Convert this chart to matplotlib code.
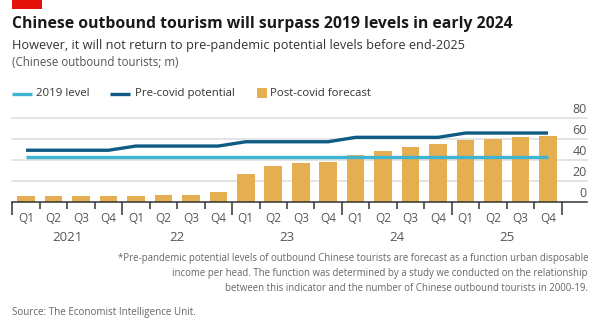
import matplotlib
matplotlib.use("Agg")
import matplotlib.pyplot as plt
from matplotlib.lines import Line2D
from matplotlib.patches import Rectangle
import matplotlib.transforms as mtransforms

# ---- data -------------------------------------------------------------
quarters = ["Q1", "Q2", "Q3", "Q4"] * 5
years = ["2021", "22", "23", "24", "25"]
post_covid_forecast = [5.0, 5.0, 5.0, 5.0,
                       5.0, 6.3, 6.3, 8.9,
                       26.3, 34.3, 36.5, 38.1,
                       44.4, 48.6, 52.4, 54.6,
                       58.4, 60.0, 61.3, 62.5]
pre_covid_potential = [49.0] * 4 + [53.0] * 4 + [57.1] * 4 + [61.3] * 4 + [65.4] * 4
level_2019 = [42.2] * 20
y_ticks = [0, 20, 40, 60, 80]

# ---- style --------------------------------------------------------------
BAR = "#E5AE50"
DARK = "#0F5B84"
LIGHT = "#40B3D0"
GRID = "#DCDCDC"
AXIS = "#333333"
TXT = "#1a1a1a"
GREY = "#555555"
FONT = "Open Sans"

W, H = 600, 330
fig = plt.figure(figsize=(W / 100, H / 100), dpi=100)
fig.patch.set_facecolor("white")


def fx(px):
    return px / W


def fy(py):
    return 1 - py / H


# plot area: bars span x 12..562 px, axis runs to 587 px; 0 at y=202, 80 at y=118
x_left, x_right = 12.3, 587.0
y0_px, y80_px = 201.7, 117.7
n = len(post_covid_forecast)
unit = (561.7 - x_left) / n
xmax = -0.5 + (x_right - x_left) / unit
ax = fig.add_axes([fx(x_left), fy(y0_px), (x_right - x_left) / W, (y0_px - y80_px) / H])
ax.set_xlim(-0.5, xmax)
ax.set_ylim(0, 80)
for s in ax.spines.values():
    s.set_visible(False)
ax.set_yticks([])

# gridlines and baseline
for v in y_ticks[1:]:
    ax.axhline(v, color=GRID, lw=1.1, zorder=0, clip_on=False)
ax.axhline(0, color=AXIS, lw=1.1, zorder=4, clip_on=False)

xs = list(range(n))
ax.bar(xs, post_covid_forecast, width=0.64, color=BAR, zorder=2)
ax.plot(xs, level_2019, color=LIGHT, lw=2.4, zorder=3, solid_capstyle="butt")
ax.plot(xs, pre_covid_potential, color=DARK, lw=2.4, zorder=3, solid_capstyle="butt",
        solid_joinstyle="round")

# y labels sit above gridlines at the right edge
lab_tr = mtransforms.offset_copy(ax.transData, fig=fig, x=0, y=1.2, units="points")
for v in y_ticks:
    ax.text(xmax, v, str(v), transform=lab_tr, ha="right", va="bottom",
            fontsize=9, color=GREY, family=FONT)

# tick marks between quarters; longer ones between years
ax.set_xticks([i - 0.5 for i in range(0, n + 1, 4)])
ax.set_xticks([i - 0.5 for i in range(n + 1) if i % 4], minor=True)
ax.tick_params(axis="x", which="major", length=9, width=1.1, color=AXIS, labelbottom=False)
ax.tick_params(axis="x", which="minor", length=5, width=1.1, color=AXIS, labelbottom=False)

q_tr = mtransforms.blended_transform_factory(ax.transData, fig.transFigure)
for i, q in enumerate(quarters):
    ax.text(i, fy(218), q, transform=q_tr, ha="center", va="center",
            fontsize=8.5, color=GREY, family=FONT)
for k, yr in enumerate(years):
    ax.text(4 * k + 1.5, fy(237.5), yr, transform=q_tr, ha="center", va="center",
            fontsize=9.5, color=GREY, family=FONT)

# ---- header -------------------------------------------------------------
fig.add_artist(Rectangle((fx(12), fy(9)), fx(42) - fx(12), 9 / H, transform=fig.transFigure,
                         color="#E3120B", lw=0))
fig.text(fx(12), fy(24), "Chinese outbound tourism will surpass 2019 levels in early 2024",
         ha="left", va="center", fontsize=11.3, fontweight="bold", color=TXT, family=FONT)
fig.text(fx(12), fy(45), "However, it will not return to pre-pandemic potential levels before end-2025",
         ha="left", va="center", fontsize=9.2, color="#333333", family=FONT)
fig.text(fx(12), fy(63), "(Chinese outbound tourists; m)",
         ha="left", va="center", fontsize=8.3, color=GREY, family=FONT)

# legend
ly = fy(93.5)
fig.add_artist(Line2D([fx(12.3), fx(31.7)], [ly, ly], transform=fig.transFigure,
                      color=LIGHT, lw=2.4, solid_capstyle="butt"))
fig.text(fx(36), ly, "2019 level", ha="left", va="center", fontsize=8.2, color="#333333", family=FONT)
fig.add_artist(Line2D([fx(110), fx(130)], [ly, ly], transform=fig.transFigure,
                      color=DARK, lw=2.4, solid_capstyle="butt"))
fig.text(fx(135), ly, "Pre-covid potential", ha="left", va="center", fontsize=8.2, color="#333333",
         family=FONT)
fig.add_artist(Rectangle((fx(257), fy(98)), 10 / W, 10 / H, transform=fig.transFigure,
                         color=BAR, lw=0))
fig.text(fx(270.5), ly, "Post-covid forecast", ha="left", va="center", fontsize=8.2, color="#333333",
         family=FONT)

# ---- footnote and source ------------------------------------------------
notes = [
    "*Pre-pandemic potential levels of outbound Chinese tourists are forecast as a function urban disposable",
    "income per head. The function was determined by a study we conducted on the relationship",
    "between this indicator and the number of Chinese outbound tourists in 2000-19.",
]
for j, line in enumerate(notes):
    fig.text(fx(588), fy(258.3 + 15 * j), line, ha="right", va="center",
             fontsize=6.9, color="#666666", family=FONT)
fig.text(fx(12), fy(313), "Source: The Economist Intelligence Unit.", ha="left", va="center",
         fontsize=7.1, color="#666666", family=FONT)

fig.savefig("out.png", dpi=100, facecolor="white")
